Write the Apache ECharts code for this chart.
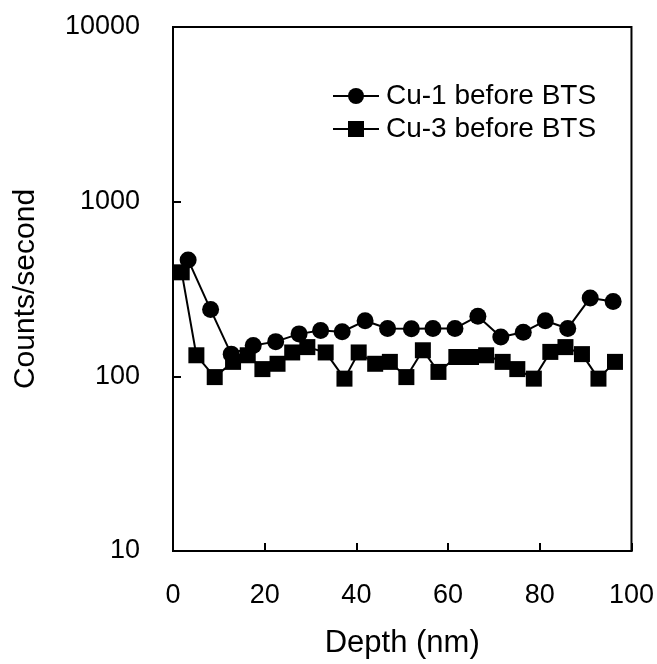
<!DOCTYPE html>
<html>
<head>
<meta charset="utf-8">
<script src="https://cdn.jsdelivr.net/npm/echarts@6/dist/echarts.min.js"></script>
<style>
  html, body { margin: 0; padding: 0; background: #fff; }
  #chart { width: 657px; height: 664px; }
</style>
</head>
<body>
<div id="chart"></div>
<script>
// Cu-1 before BTS (circles)
var cu1Depth = [3.3, 8.2, 12.7, 17.5, 22.4, 27.5, 32.2, 36.9, 41.9, 46.8, 52.0, 56.7, 61.5, 66.5, 71.5, 76.4, 81.2, 86.1, 91.0, 96.0];
var cu1Counts = [464, 241, 134, 150, 158, 175, 183, 180, 208, 188, 187, 188, 188, 221, 168, 179, 208, 188, 281, 268];

// Cu-3 before BTS (squares)
var cu3Depth = [1.9, 5.1, 9.1, 13.1, 16.3, 19.5, 22.8, 26.0, 29.3, 33.3, 37.4, 40.5, 44.1, 47.3, 50.9, 54.5, 57.9, 61.8, 65.0, 68.3, 71.9, 75.1, 78.7, 82.3, 85.6, 89.2, 92.8, 96.4];
var cu3Counts = [394, 132, 99, 121, 132, 110, 118, 137, 147, 137, 97, 137, 118, 121, 99, 141, 106, 129, 129, 132, 121, 110, 97, 138, 147, 134, 97, 121];

function pairs(xs, ys) {
  return xs.map(function (x, i) { return [x, ys[i]]; });
}

var font = "Liberation Sans, Arial, sans-serif";
var chart = echarts.init(document.getElementById("chart"));
chart.setOption({
  animation: false,
  backgroundColor: "#fff",
  grid: {
    left: 173,
    right: 22,
    top: 27,
    bottom: 111,
    show: true,
    borderColor: "#000",
    borderWidth: 2,
  },
  legend: {
    orient: "vertical",
    left: 327,
    top: 77,
    itemWidth: 46,
    itemHeight: 20,
    itemGap: 5,
    textStyle: { fontFamily: font, fontSize: 28, color: "#000", padding: [0, 0, 0, 2] },
    data: ["Cu-1 before BTS", "Cu-3 before BTS"],
  },
  xAxis: {
    type: "value",
    min: 0,
    max: 100,
    interval: 20,
    name: "Depth (nm)",
    nameLocation: "middle",
    nameGap: 77,
    nameTextStyle: { fontFamily: font, fontSize: 31, color: "#000" },
    axisLine: { lineStyle: { color: "#000", width: 2 } },
    axisTick: { inside: true, length: 8, lineStyle: { color: "#000", width: 2 } },
    axisLabel: { margin: 31, fontFamily: font, fontSize: 27, color: "#000" },
    splitLine: { show: false },
  },
  yAxis: {
    type: "log",
    logBase: 10,
    min: 10,
    max: 10000,
    name: "Counts/second",
    nameLocation: "middle",
    nameGap: 132,
    nameTextStyle: { fontFamily: font, fontSize: 30, color: "#000" },
    axisLine: { lineStyle: { color: "#000", width: 2 } },
    axisTick: { inside: true, length: 8, lineStyle: { color: "#000", width: 2 } },
    axisLabel: {
      margin: 33,
      fontFamily: font,
      fontSize: 27,
      color: "#000",
      formatter: function (v) { return String(v); },
    },
    splitLine: { show: false },
  },
  series: [
    {
      name: "Cu-1 before BTS",
      type: "line",
      data: pairs(cu1Depth, cu1Counts),
      symbol: "circle",
      symbolSize: 17,
      itemStyle: { color: "#000" },
      lineStyle: { color: "#000", width: 2 },
    },
    {
      name: "Cu-3 before BTS",
      type: "line",
      data: pairs(cu3Depth, cu3Counts),
      symbol: "rect",
      symbolSize: 16,
      itemStyle: { color: "#000" },
      lineStyle: { color: "#000", width: 2 },
    },
  ],
});
</script>
</body>
</html>
